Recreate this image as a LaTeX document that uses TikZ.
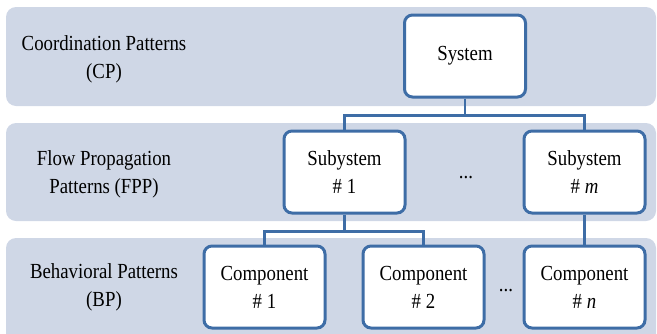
\documentclass[tikz,border=0pt]{standalone}
\usepackage{fontspec}
\setmainfont{Liberation Serif}[FakeStretch=0.875]
\definecolor{bandfill}{HTML}{CFD7E6}
\definecolor{boxline}{HTML}{3E6DA6}
\begin{document}
\begin{tikzpicture}[x=1pt,y=-1pt,
  every node/.style={font=\fontsize{21.5}{28}\selectfont},
  band/.style={fill=bandfill,draw=none,rounded corners=10pt},
  level/.style={align=center,inner sep=0pt},
  unit/.style={draw=boxline,line width=3pt,fill=white,rounded corners=8pt,
    minimum width=121pt,minimum height=82pt,align=center,inner sep=0pt},
  link/.style={draw=boxline,line width=2.5pt}]
\useasboundingbox (0,0) rectangle (657,333);

% background bands, one per pattern level
\fill[band] (6,7) rectangle (656,106);
\fill[band] (6,123) rectangle (656,221);
\fill[band] (6,238) rectangle (656,350);

% level captions
\node[level] (cp)  at (104,59)  {Coordination Patterns\\(CP)};
\node[level] (fpp) at (104,174) {Flow Propagation\\Patterns (FPP)};
\node[level] (bp)  at (104,287) {Behavioral Patterns\\(BP)};

% hierarchy boxes
\node[unit] (sys) at (465,56)    {\raisebox{-3pt}{System}};
\node[unit] (s1)  at (344.5,172) {Subystem\\\# 1};
\node[unit] (sm)  at (584.5,172) {Subystem\\\# \textit{m}};
\node[unit] (c1)  at (264.5,287) {Component\\\# 1};
\node[unit] (c2)  at (423.5,287) {Component\\\# 2};
\node[unit] (cn)  at (584.5,287) {Component\\\# \textit{n}};

% ellipses between siblings
\node[inner sep=0pt] (d1) at (466,178) {...};
\node[inner sep=0pt] (d2) at (506,291) {...};

% tree connectors
\draw[link] (sys.south) -- ++(0,17) coordinate (j1) -| (s1.north);
\draw[link] (j1) -| (sm.north);
\draw[link] (s1.south) -- ++(0,17) coordinate (j2) -| (c1.north);
\draw[link] (j2) -| (c2.north);
\draw[link] (sm.south) -- (cn.north);
\end{tikzpicture}
\end{document}
